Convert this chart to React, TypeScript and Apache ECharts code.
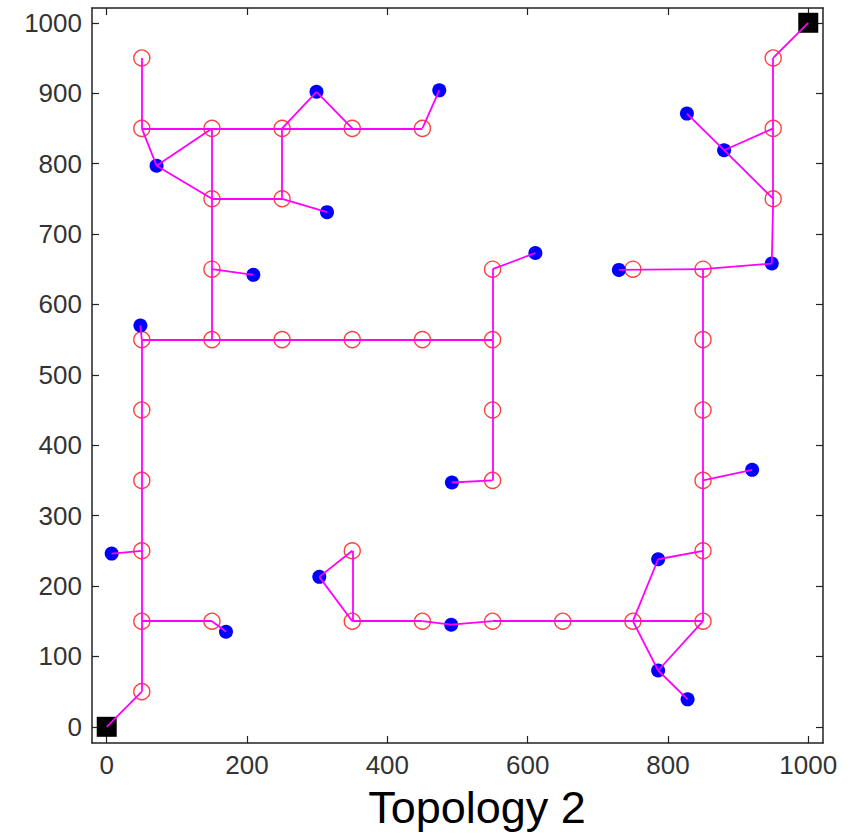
import React, { useEffect, useRef } from "react";
import * as echarts from "echarts";

const xTickValues = [0, 200, 400, 600, 800, 1000];
const yTickValues = [0, 100, 200, 300, 400, 500, 600, 700, 800, 900, 1000];

const relayNodes: [number, number][] = [
  [50, 950], [50, 850], [150, 850], [250, 850], [350, 850], [450, 850],
  [150, 750], [250, 750], [150, 650],
  [50, 550], [150, 550], [250, 550], [350, 550], [450, 550], [550, 550],
  [550, 650], [550, 450], [550, 350],
  [50, 450], [50, 350], [50, 250], [50, 150], [150, 150], [50, 50],
  [350, 250], [350, 150], [450, 150], [550, 150], [650, 150], [750, 150], [850, 150],
  [850, 250], [850, 350], [850, 450], [850, 550], [850, 650], [750, 650],
  [950, 750], [950, 850], [950, 950],
];

const sensorNodes: [number, number][] = [
  [71, 797], [299, 902], [474, 904], [314, 731], [209, 642], [48, 570],
  [7, 246], [170, 135], [303, 213], [492, 347], [491, 145], [611, 673],
  [730, 649], [827, 871], [880, 819], [948, 658], [920, 365],
  [786, 238], [786, 80], [828, 39],
];

const sinkNodes: [number, number][] = [[0, 0], [1000, 1000]];

const links: [number, number][][] = [
  [[0, 0], [50, 50]],
  [[50, 50], [50, 550]],
  [[50, 150], [150, 150]],
  [[150, 150], [170, 135]],
  [[50, 250], [7, 246]],
  [[50, 550], [48, 570]],
  [[50, 550], [550, 550]],
  [[150, 550], [150, 850]],
  [[150, 650], [209, 642]],
  [[150, 750], [250, 750]],
  [[250, 750], [314, 731]],
  [[250, 750], [250, 850]],
  [[50, 850], [450, 850]],
  [[50, 850], [50, 950]],
  [[50, 850], [71, 797]],
  [[71, 797], [150, 850]],
  [[71, 797], [150, 750]],
  [[250, 850], [299, 902]],
  [[299, 902], [350, 850]],
  [[450, 850], [474, 904]],
  [[550, 550], [550, 650]],
  [[550, 650], [611, 673]],
  [[550, 550], [550, 350]],
  [[550, 350], [492, 347]],
  [[350, 150], [450, 150]],
  [[450, 150], [491, 145]],
  [[491, 145], [550, 150]],
  [[550, 150], [850, 150]],
  [[350, 150], [350, 250]],
  [[350, 250], [303, 213]],
  [[303, 213], [350, 150]],
  [[750, 150], [786, 238]],
  [[786, 238], [850, 250]],
  [[750, 150], [786, 80]],
  [[786, 80], [850, 150]],
  [[786, 80], [828, 39]],
  [[850, 150], [850, 650]],
  [[850, 350], [920, 365]],
  [[850, 650], [730, 649]],
  [[850, 650], [948, 658]],
  [[948, 658], [950, 750]],
  [[950, 750], [950, 950]],
  [[950, 750], [880, 819]],
  [[880, 819], [827, 871]],
  [[880, 819], [950, 850]],
  [[950, 950], [1000, 1000]],
];

const titleText = "Topology 2";

const FONT = "'Liberation Sans', Arial, sans-serif";

export default function App() {
  const ref = useRef<HTMLDivElement>(null);
  useEffect(() => {
    if (!ref.current) return;
    const chart = echarts.init(ref.current, null, { renderer: "svg" });
    const axisLine = { show: true, onZero: false, lineStyle: { color: "#222", width: 1.5 } };
    const tickStyle = { color: "#222", width: 1.2 };
    const baseX = { type: "value", min: -21, max: 1021, splitLine: { show: false } };
    const baseY = { type: "value", min: -23, max: 1021, splitLine: { show: false } };
    const labelStyle = {
      show: true,
      fontSize: 26,
      lineHeight: 22,
      color: "#333",
      fontFamily: FONT,
      formatter: (v: number) => String(v),
    };
    chart.setOption({
      animation: false,
      backgroundColor: "#fff",
      grid: { left: 92, top: 8, right: 37, bottom: 90, containLabel: false },
      xAxis: [
        {
          ...baseX,
          position: "bottom",
          axisLine,
          axisTick: { show: true, inside: true, length: 7, customValues: xTickValues, lineStyle: tickStyle },
          axisLabel: { ...labelStyle, customValues: xTickValues, margin: 11 },
        },
        {
          ...baseX,
          position: "top",
          axisLine,
          axisTick: { show: true, inside: true, length: 7, customValues: xTickValues, lineStyle: tickStyle },
          axisLabel: { show: false },
        },
      ],
      yAxis: [
        {
          ...baseY,
          position: "left",
          axisLine,
          axisTick: { show: true, inside: true, length: 7, customValues: yTickValues, lineStyle: tickStyle },
          axisLabel: { ...labelStyle, customValues: yTickValues, margin: 10 },
        },
        {
          ...baseY,
          position: "right",
          axisLine,
          axisTick: { show: true, inside: true, length: 7, customValues: yTickValues, lineStyle: tickStyle },
          axisLabel: { show: false },
        },
      ],
      series: [
        {
          type: "scatter",
          data: relayNodes,
          symbol: "circle",
          symbolSize: 16,
          itemStyle: { color: "rgba(0,0,0,0)", borderColor: "#ff4040", borderWidth: 1.4, opacity: 1 },
          z: 2,
        },
        {
          type: "scatter",
          data: sensorNodes,
          symbol: "circle",
          symbolSize: 14,
          itemStyle: { color: "#0000ff", opacity: 1 },
          z: 2,
        },
        {
          type: "scatter",
          data: sinkNodes,
          symbol: "rect",
          symbolSize: 20,
          itemStyle: { color: "#000", opacity: 1 },
          z: 2,
        },
        {
          type: "lines",
          coordinateSystem: "cartesian2d",
          data: links.map((c) => ({ coords: c })),
          lineStyle: { color: "#ff00ff", width: 1.8, opacity: 1 },
          z: 3,
        },
      ],
      graphic: [
        {
          type: "text",
          x: 477,
          y: 807,
          style: {
            text: titleText,
            fontSize: 45,
            lineHeight: 34,
            fontFamily: FONT,
            fill: "#000",
            align: "center",
            verticalAlign: "middle",
          },
        },
      ],
    });
    return () => chart.dispose();
  }, []);
  return (
    <div
      ref={ref}
      style={{ position: "fixed", left: 0, top: 0, width: 860, height: 833 }}
    />
  );
}
